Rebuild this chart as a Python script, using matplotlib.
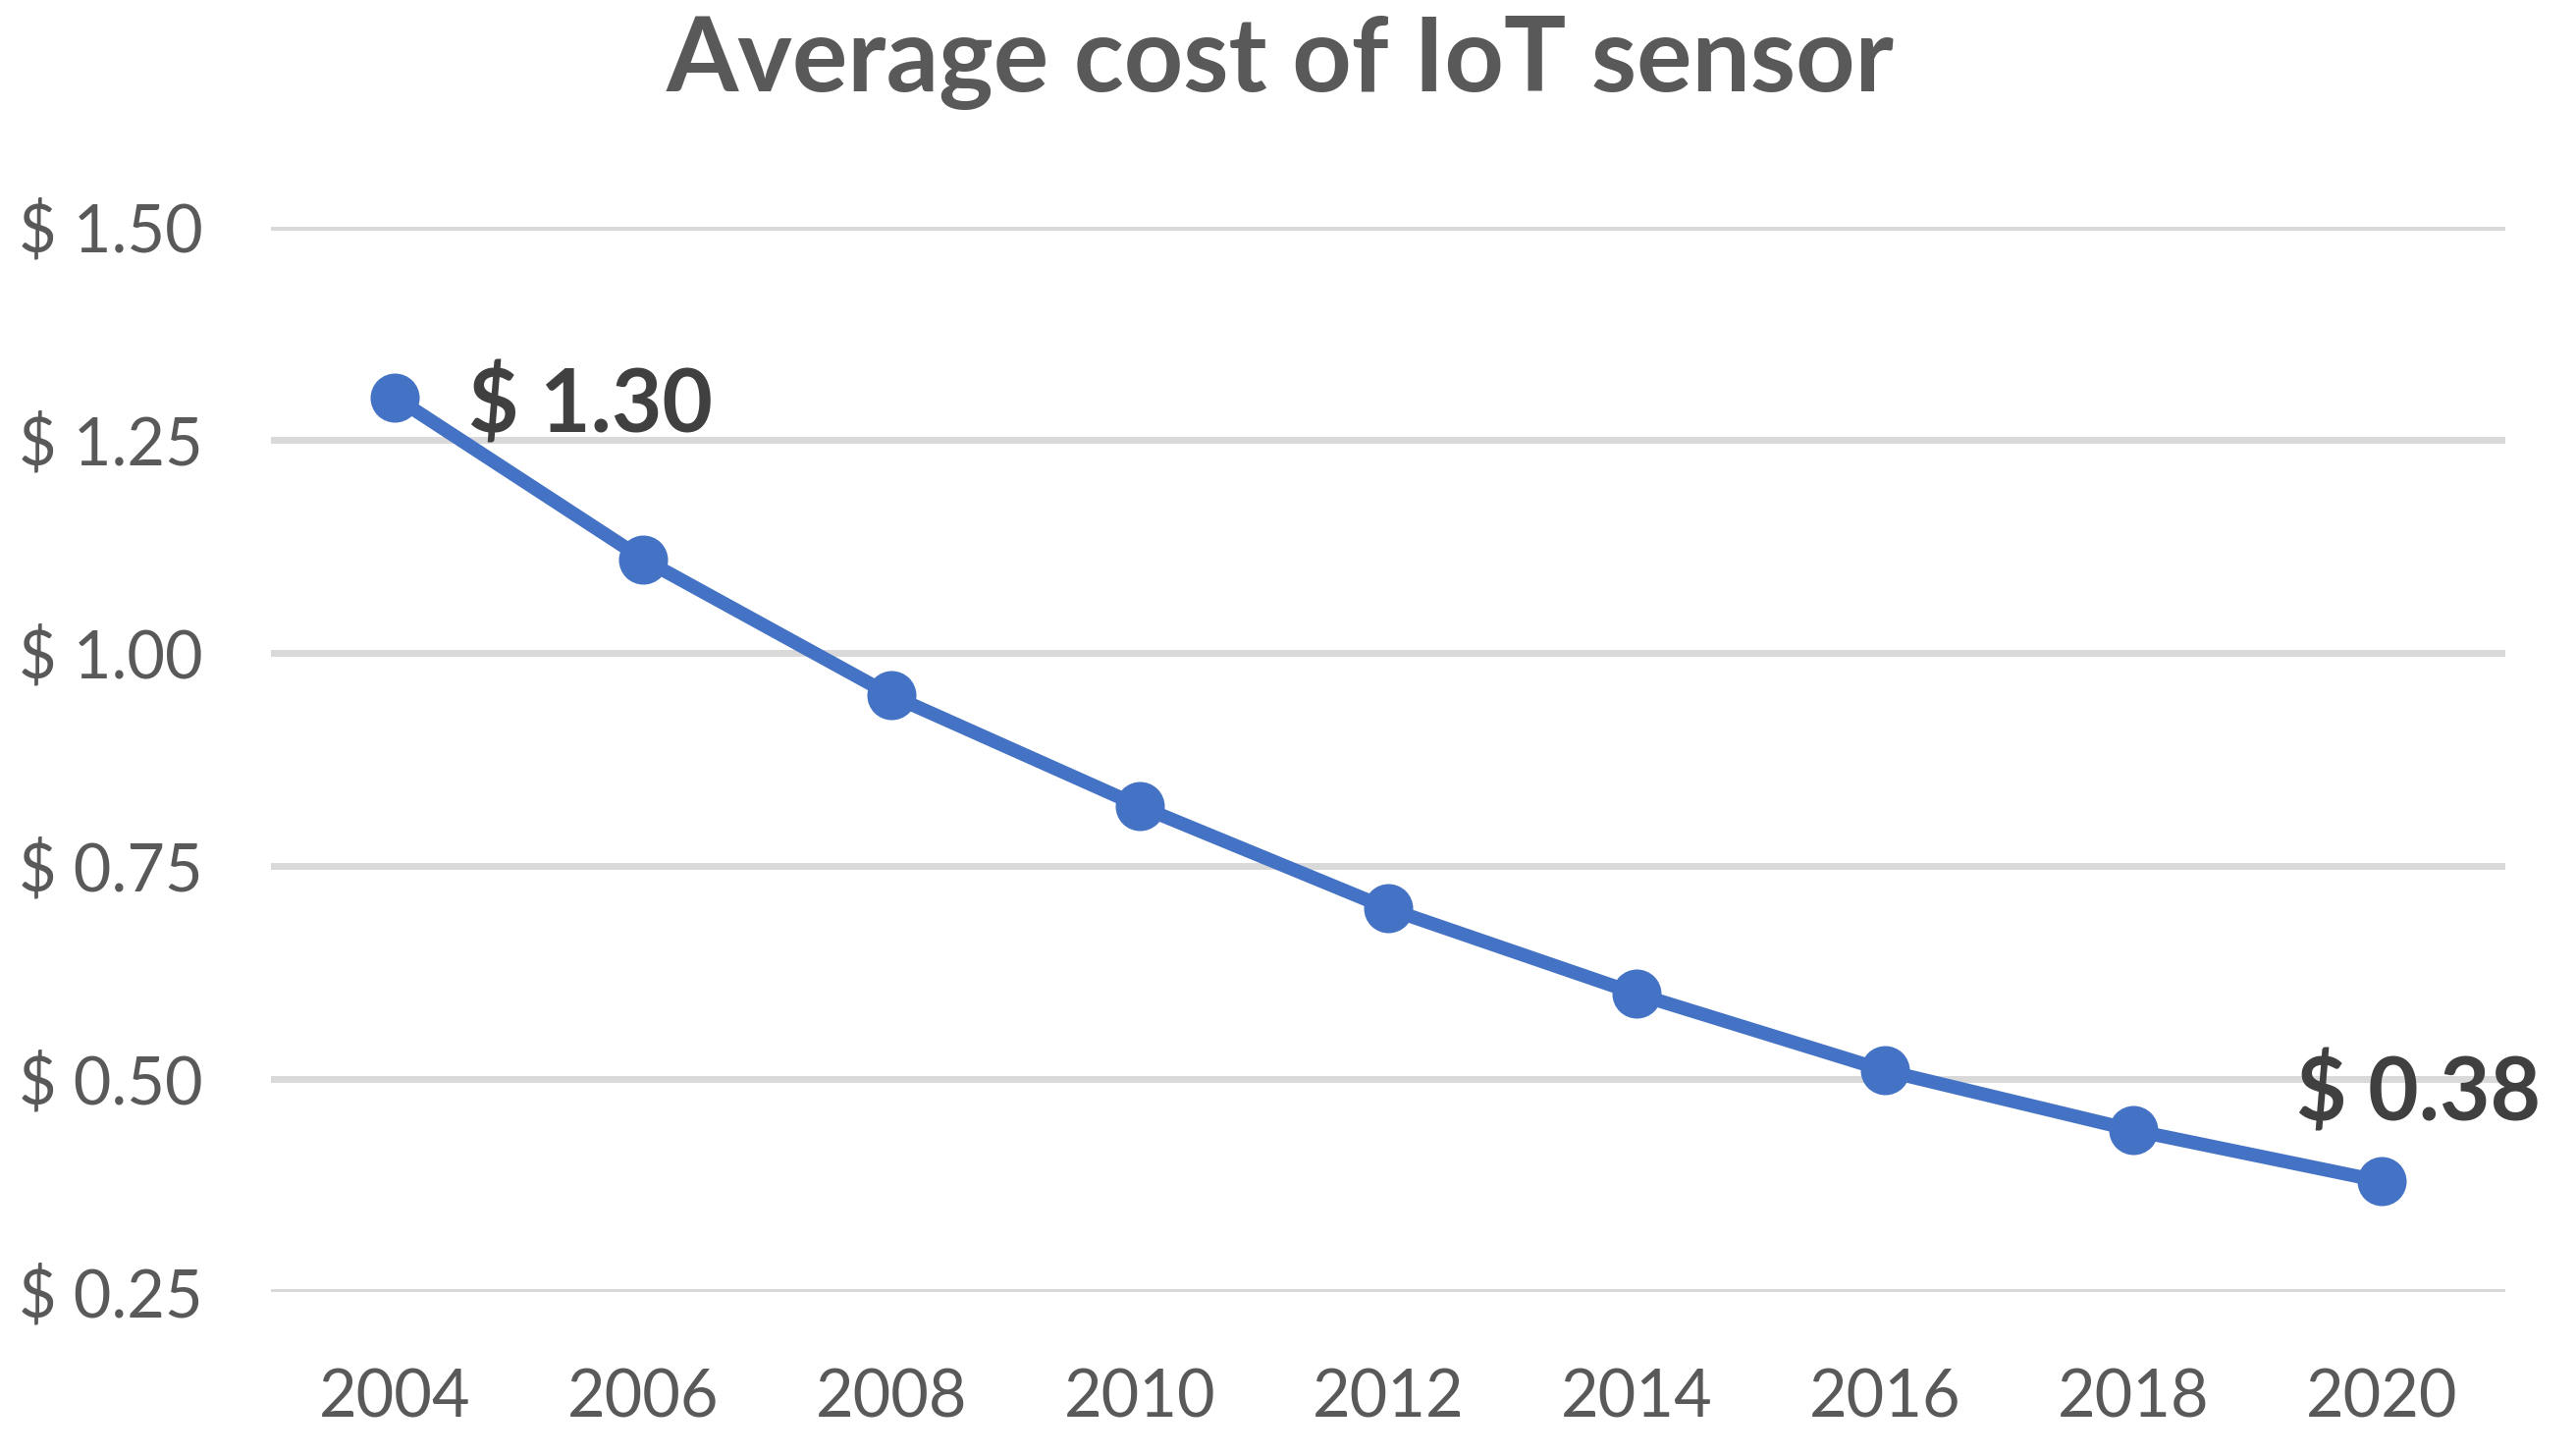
import matplotlib
matplotlib.use("Agg")
import matplotlib.pyplot as plt
from matplotlib.ticker import FuncFormatter

# values
years = ["2004", "2006", "2008", "2010", "2012", "2014", "2016", "2018", "2020"]
cost = [1.30, 1.11, 0.95, 0.82, 0.70, 0.60, 0.51, 0.44, 0.38]
y_ticks = [0.25, 0.50, 0.75, 1.00, 1.25, 1.50]
title = "Average cost of IoT sensor"

plt.rcParams['font.family'] = ['Lato', 'DejaVu Sans']

fig = plt.figure(figsize=(26.24, 14.82), dpi=100)
ax = fig.add_axes([0.1052, 0.112, 0.8674, 0.7321])

x = list(range(len(years)))
ax.plot(x, cost, color="#4472C4", linewidth=10, marker="o", markersize=35,
        solid_capstyle="round", zorder=3)

ax.set_xlim(-0.5, len(years) - 0.5)
ax.set_ylim(y_ticks[0], y_ticks[-1])
ax.set_xticks(x)
ax.set_xticklabels(years)
ax.set_yticks(y_ticks)
ax.yaxis.set_major_formatter(FuncFormatter(lambda v, p: f"$ {v:.2f}"))

ax.grid(axis="y", color="#D9D9D9", linewidth=5, zorder=0)
for s in ax.spines.values():
    s.set_visible(False)
ax.tick_params(axis="both", length=0, labelsize=48, labelcolor="#595959")
ax.tick_params(axis="x", pad=56)
ax.tick_params(axis="y", pad=50)
for lbl in ax.get_yticklabels():
    lbl.set_clip_on(False)

# data labels on first and last points
ax.annotate(f"$ {cost[0]:.2f}", (x[0], cost[0]), xytext=(54, -6), textcoords="offset points",
            ha="left", va="center", fontsize=64, fontweight="bold", color="#404040",
            annotation_clip=False)
ax.annotate(f"$ {cost[-1]:.2f}", (x[-1], cost[-1]), xytext=(27, 64), textcoords="offset points",
            ha="center", va="center", fontsize=64, fontweight="bold", color="#404040",
            annotation_clip=False)

fig.text(0.497, 0.957, title, ha="center", va="center", fontsize=76,
         fontweight="bold", color="#595959")

fig.savefig("out.png", dpi=100, facecolor="white")
